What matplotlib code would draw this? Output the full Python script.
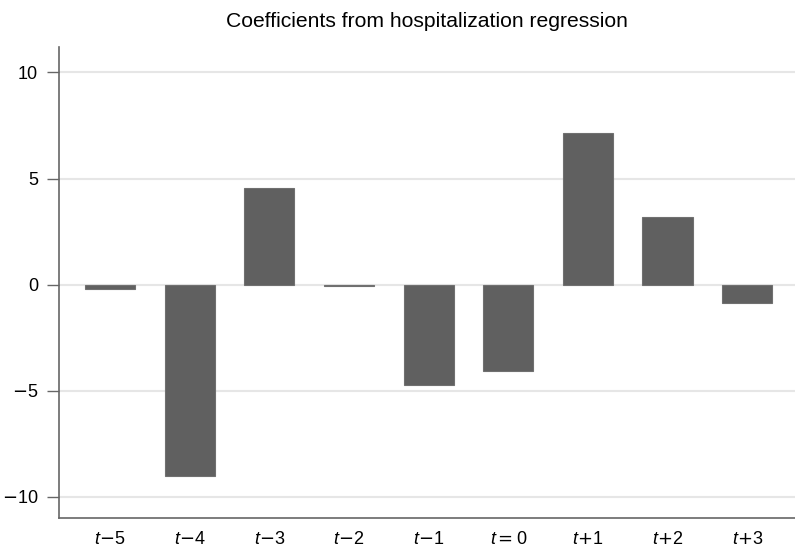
import matplotlib
matplotlib.use("Agg")
import matplotlib.pyplot as plt

labels = ["t-5", "t-4", "t-3", "t-2", "t-1", "t=0", "t+1", "t+2", "t+3"]
tick_text = [r"$t\mathsf{{-}}5$", r"$t\mathsf{{-}}4$", r"$t\mathsf{{-}}3$", r"$t\mathsf{{-}}2$",
             r"$t\mathsf{{-}}1$", r"$t\mathsf{{=}}0$", r"$t\mathsf{{+}}1$", r"$t\mathsf{{+}}2$",
             r"$t\mathsf{{+}}3$"]
values = [-0.22, -9.0, 4.55, -0.06, -4.72, -4.06, 7.17, 3.2, -0.85]
yticks = [-10, -5, 0, 5, 10]
ytick_labels = [r"$\mathsf{{-}}10$", r"$\mathsf{{-}}5$", "0", "5", "10"]

plt.rcParams["font.family"] = ["Liberation Sans", "DejaVu Sans"]
plt.rcParams["mathtext.fontset"] = "custom"
plt.rcParams["mathtext.rm"] = "Liberation Sans"
plt.rcParams["mathtext.it"] = "Liberation Sans:italic"
plt.rcParams["mathtext.sf"] = "DejaVu Sans"

fig = plt.figure(figsize=(7.95, 5.53), dpi=100)
ax = fig.add_axes([59/795, 1 - 518/553, 1 - 59/795, (518 - 47)/553])

x = list(range(len(values)))
ax.bar(x, values, width=0.63, color="#606060", edgecolor="#707070", linewidth=0.8, zorder=3)

ax.set_ylim(-11.0, 11.2)
ax.set_xlim(-0.64, 8.6)
ax.set_yticks(yticks)
ax.set_yticklabels(ytick_labels, fontsize=13)
ax.set_xticks(x)
ax.set_xticklabels(tick_text, fontsize=13)
ax.tick_params(axis="x", length=0, pad=9)
ax.tick_params(axis="y", length=9, width=1, color="#666666", pad=6)
ax.yaxis.grid(True, color="#e6e6e6", linewidth=1.5, zorder=0)
ax.set_axisbelow(True)

for s in ["top", "right"]:
    ax.spines[s].set_visible(False)
for s in ["left", "bottom"]:
    ax.spines[s].set_color("#666666")
    ax.spines[s].set_linewidth(1.2)

ax.set_title("Coefficients from hospitalization regression", fontsize=15.2, pad=14.5)

fig.savefig("out.png", dpi=100)
